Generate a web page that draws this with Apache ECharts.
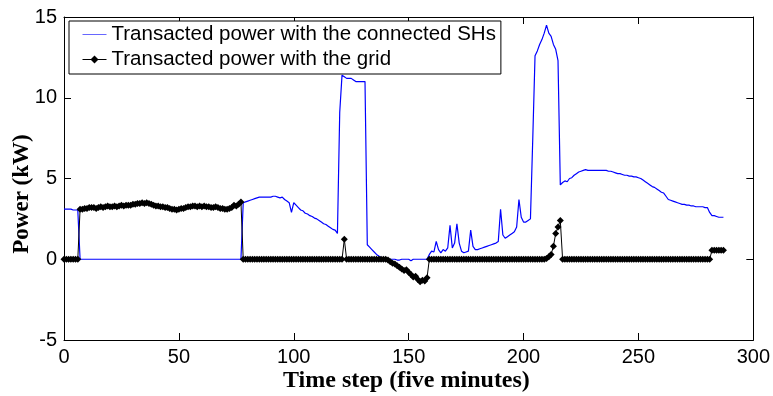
<!DOCTYPE html>
<html>
<head>
<meta charset="utf-8">
<script src="https://cdn.jsdelivr.net/npm/echarts@6/dist/echarts.min.js"></script>
<style>html,body{margin:0;padding:0;background:#fff}#c{width:773px;height:396px}</style>
</head>
<body>
<div id="c"></div>
<script>
// Time steps 0..287 (five-minute steps)
var seriesNames = ['Transacted power with the connected SHs', 'Transacted power with the grid'];
var xTicks = [0, 50, 100, 150, 200, 250, 300];
var yTicks = [-5, 0, 5, 10, 15];

// Blue: transacted power with connected SHs (kW), t = 0..287
var shPower = [
  3.1,3.1,3.1,3.1,3.05,3.05,3.05,
  0,0,0,0,0,0,0,0,0,0, 0,0,0,0,0,0,0,0,0,0, 0,0,0,0,0,0,0,0,0,0, 0,0,0,0,0,0,0,0,0,0,
  0,0,0,0,0,0,0,0,0,0, 0,0,0,0,0,0,0,0,0,0, 0,0,0,0,0,0,0,0,0,0, 0,
  3.5,3.55,3.6,3.65,3.7,3.75,3.8,3.85,3.85,3.85,3.85,3.85,3.85,3.9,3.9,3.85,3.8,3.85,3.7,3.6,3.5,2.9,
  3.5,3.35,3.2,3.05,3.0,2.85,2.8,2.7,2.65,2.55,2.5,2.4,2.3,2.2,2.15,2.05,1.95,1.85,1.8,1.6,
  9.1,11.4,11.3,11.2,11.2,11.2,11.1,11.0,11.0,11.0,11.0,
  11.0,0.9,0.75,0.6,0.45,0.3,0.2,0.1,0.05,
  0,0,0,0,0,-0.05,-0.05,0,0,0,0,-0.1,0,0,0,0,0,0,0,
  0.3,0.5,0.45,1.1,0.6,0.4,0.6,0.5,0.7,2.1,0.7,1.0,2.2,1.0,0.5,0.4,0.45,0.5,1.8,0.8,
  0.6,0.6,0.65,0.7,0.75,0.8,0.85,0.9,0.95,1.0,1.1,3.1,1.5,1.3,1.4,1.5,1.6,1.7,2.0,3.7,
  2.6,2.3,2.3,2.4,2.5,
  7.4,12.6,12.9,13.3,13.6,14.0,14.5,14.0,13.8,13.3,13.0,12.3,
  4.6,4.75,4.85,4.8,5.0,5.05,5.2,5.3,5.4,5.45,5.5,5.55,5.5,
  5.5,5.5,5.5,5.5,5.5,5.5,5.5,5.5,
  5.45,5.45,5.4,5.35,5.3,5.3,5.25,5.2,5.2,5.15,
  5.15,5.1,5.1,5.05,5.0,4.9,4.8,4.7,4.6,4.5,
  4.45,4.35,4.25,4.15,4.1,3.9,3.7,3.65,3.6,3.55,
  3.5,3.45,3.4,3.4,3.35,3.35,3.3,3.3,3.25,3.25,
  3.25,3.25,3.2,3.2,2.9,2.7,2.7,2.65,2.6,2.6,
  2.6
];

// Black: transacted power with the grid (kW), t = 0..287
var gridPower = [
  0,0,0,0,0,0,0,
  3.1,3.1,3.15,3.15,3.2,3.2,3.2,3.15,3.2,3.25,3.2,3.25,3.3,3.25,3.25,3.3,3.25,3.3,3.35,3.3,
  3.35,3.35,3.35,3.4,3.4,3.45,3.45,3.5,3.45,3.5,3.45,3.4,3.35,3.3,3.3,3.25,3.25,3.2,3.2,3.15,
  3.1,3.1,3.05,3.1,3.15,3.15,3.2,3.25,3.25,3.3,3.3,3.25,3.3,3.25,3.3,3.25,3.25,3.2,3.2,3.25,
  3.2,3.15,3.15,3.1,3.1,3.15,3.2,3.35,3.3,3.4,3.55,
  0,0,0,0,0,0,0,0,0,0, 0,0,0,0,0,0,0,0,0,0, 0,0,0,0,0,0,0,0,0,0, 0,0,0,0,0,0,0,0,0,0, 0,0,0,0,
  1.24,
  0,0,0,0,0,0,0,0,0,0, 0,0,0,0,0,0,0,
  0,-0.05,-0.15,-0.25,-0.3,-0.4,-0.5,-0.6,-0.7,-0.65,-0.8,-0.95,-1.1,-1.05,-1.25,-1.4,-1.3,-1.35,-1.15,
  0,0,0,0,0,0,0,0,0,0, 0,0,0,0,0,0,0,0,0,0, 0,0,0,0,0,0,0,0,0,0, 0,0,0,0,0,0,0,0,0,0,
  0,0,0,0,0,0,0,0,0,0, 0,
  0.05,0.15,0.3,0.8,1.6,2.0,2.4,
  0,0,0,0,0,0,0,0,0,0, 0,0,0,0,0,0,0,0,0,0, 0,0,0,0,0,0,0,0,0,0, 0,0,0,0,0,0,0,0,0,0,
  0,0,0,0,0,0,0,0,0,0, 0,0,0,0,0,0,0,0,0,0, 0,0,0,0,0,
  0.55,0.55,0.55,0.55,0.55,0.55
];

function pairs(arr){ return arr.map(function(v,i){ return [i, v]; }); }

var chart = echarts.init(document.getElementById('c'), null, {renderer:'canvas'});
var axisLineStyle = {color:'#000', width:1};
var tickFont = {fontSize:20, fontFamily:'"Liberation Sans",Arial,sans-serif', color:'#000'};
function xAx(pos, showLabel){
  return {type:'value', min:xTicks[0], max:xTicks[xTicks.length-1], interval:50, position:pos,
    axisLine:{show:true, onZero:false, lineStyle:axisLineStyle},
    axisTick:{show:true, inside:true, length:7, lineStyle:axisLineStyle},
    axisLabel:Object.assign({show:showLabel, margin:7}, tickFont),
    splitLine:{show:false}};
}
function yAx(pos, showLabel){
  return {type:'value', min:yTicks[0], max:yTicks[yTicks.length-1], interval:5, position:pos,
    axisLine:{show:true, onZero:false, lineStyle:axisLineStyle},
    axisTick:{show:true, inside:true, length:7, lineStyle:axisLineStyle},
    axisLabel:Object.assign({show:showLabel, margin:7}, tickFont),
    splitLine:{show:false}};
}
chart.setOption({
  animation:false,
  backgroundColor:'#fff',
  grid:{left:64, right:17, top:17, bottom:56},
  xAxis:[xAx('bottom', true), xAx('top', false)],
  yAxis:[yAx('left', true), yAx('right', false)],
  legend:{
    orient:'vertical', left:69, top:21,
    backgroundColor:'#fff', borderColor:'#000', borderWidth:1, borderRadius:0,
    padding:[1,5,2,13], itemWidth:24, itemHeight:10, itemGap:0, symbolKeepAspect:true,
    lineStyle:{width:1},
    textStyle:{fontSize:20.5, fontFamily:'"Liberation Sans",Arial,sans-serif', color:'#000', lineHeight:25},
    data:[{name:seriesNames[0], icon:'path://M0,0H40V1H0Z'}, {name:seriesNames[1]}]
  },
  graphic:[
    {type:'text', top:369, left:283, style:{text:'Time step (five minutes)', font:'bold 24px "Liberation Serif","Times New Roman",serif', fill:'#000'}},
    {type:'text', x:22, y:194, rotation:Math.PI/2, style:{text:'Power (kW)', font:'bold 23px "Liberation Serif","Times New Roman",serif', fill:'#000', align:'center', verticalAlign:'middle'}}
  ],
  series:[
    {name:seriesNames[0], type:'line', data:pairs(shPower), symbol:'none',
     lineStyle:{color:'#0000ff', width:1.2}, itemStyle:{color:'#0000ff'}, z:2},
    {name:seriesNames[1], type:'line', data:pairs(gridPower), symbol:'diamond', symbolSize:7, showAllSymbol:true,
     lineStyle:{color:'#000', width:1}, itemStyle:{color:'#000'}, z:3}
  ]
});
</script>
</body>
</html>
